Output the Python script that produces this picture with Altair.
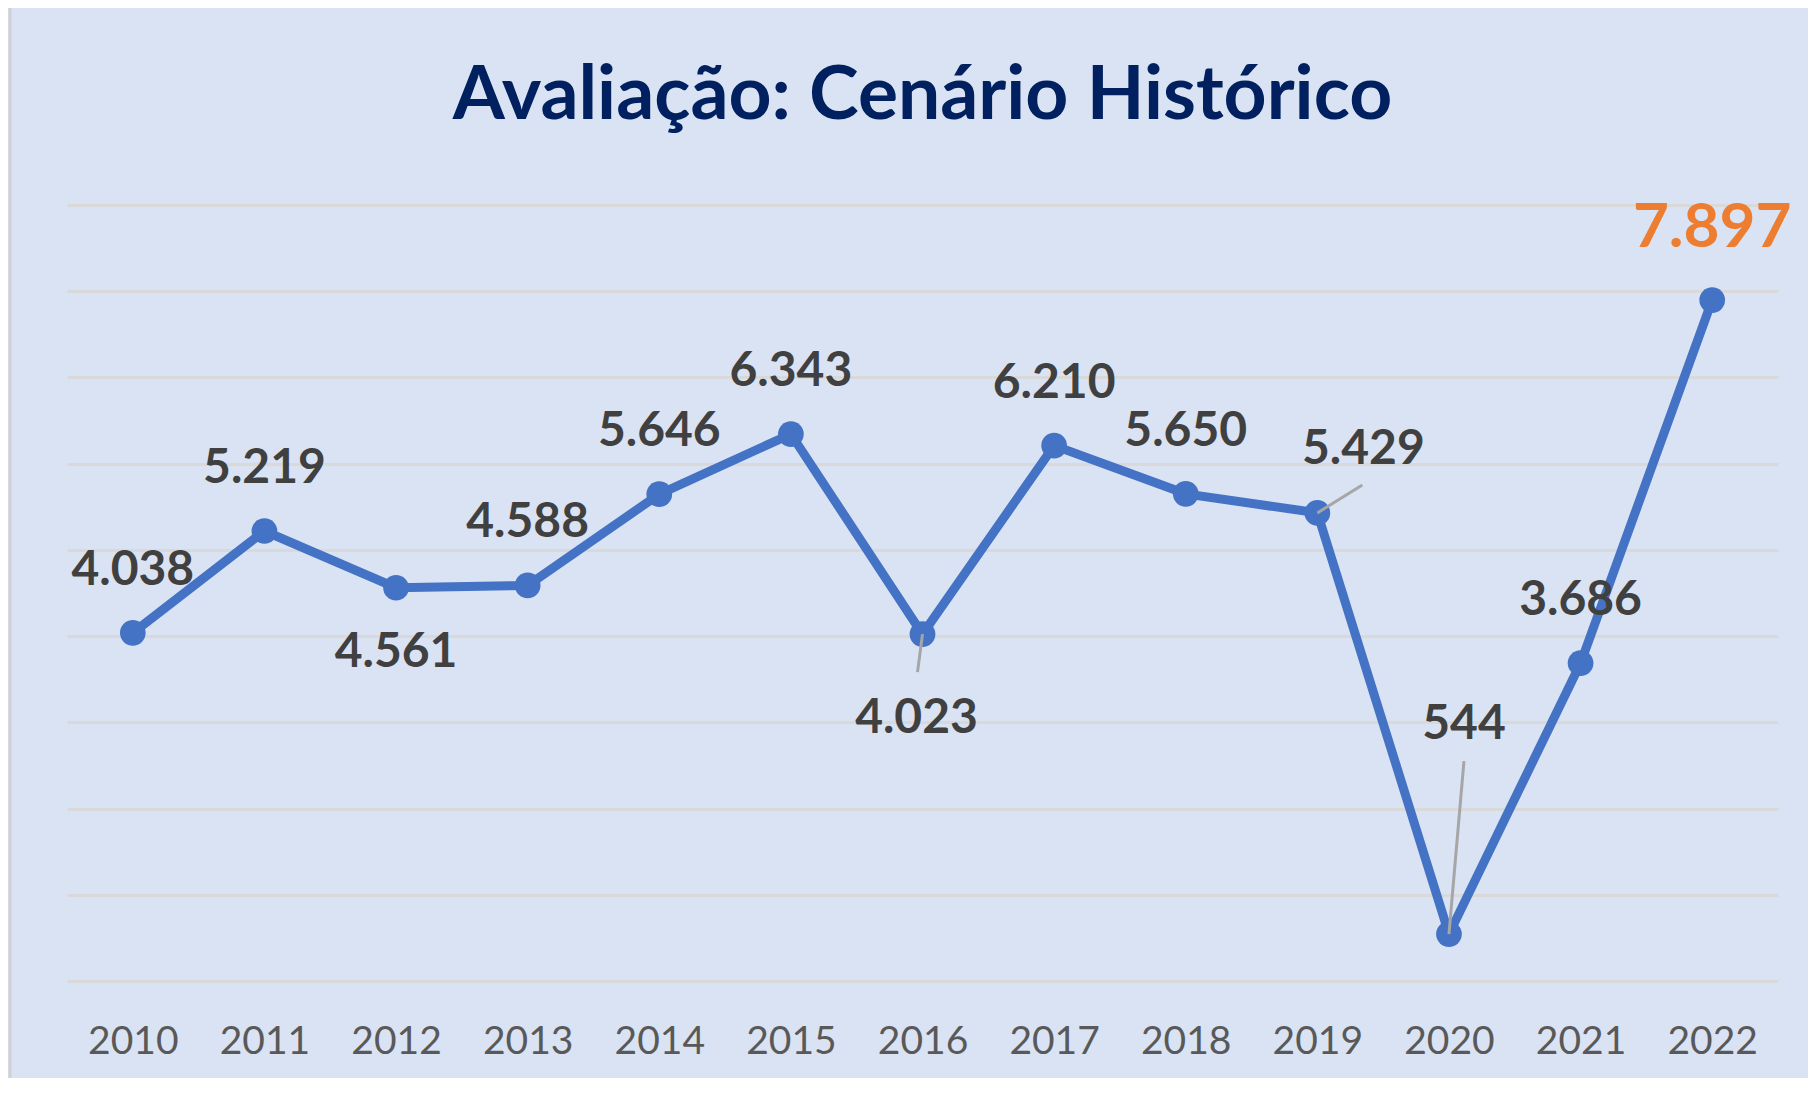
import altair as alt
import pandas as pd

# ---- data ----
years = [2010, 2011, 2012, 2013, 2014, 2015, 2016, 2017, 2018, 2019, 2020, 2021, 2022]
values = [4038, 5219, 4561, 4588, 5646, 6343, 4023, 6210, 5650, 5429, 544, 3686, 7897]
y_ticks = [0, 1000, 2000, 3000, 4000, 5000, 6000, 7000, 8000, 9000]
title_text = "Avaliação: Cenário Histórico"
highlight_year = 2022

# ---- layout / style ----
W, H = 1711, 776
PAD = {"left": 59, "top": 197, "right": 30, "bottom": 97}
X_DOMAIN = [years[0] - 0.5, years[-1] + 0.5]
Y_DOMAIN = [y_ticks[0], y_ticks[-1]]
PX_PER_YEAR = W / (X_DOMAIN[1] - X_DOMAIN[0])
PX_PER_UNIT = H / (Y_DOMAIN[1] - Y_DOMAIN[0])

BLUE = "#4472C4"
LABEL_COLOR = "#404040"
AXIS_COLOR = "#595959"
ORANGE = "#ED7D31"
NAVY = "#002060"
FONT = "Lato"

# pixel offsets of the data labels (dx, dy) from their point
default_offset = (0, -62)
label_offsets = {2012: (0, 65), 2016: (-6, 85), 2019: (46, -63), 2020: (15, -209), 2022: (0, -72)}
# leader lines (pixel end offsets from the point)
leader_offsets = {2016: (-5, 38), 2019: (45, -28), 2020: (15, -173)}

labels = [f"{v:,}".replace(",", ".") for v in values]
df = pd.DataFrame({"ano": years, "valor": values, "rotulo": labels})

x_scale = alt.Scale(domain=X_DOMAIN, nice=False, zero=False)
y_scale = alt.Scale(domain=Y_DOMAIN, nice=False, zero=False)

x_enc = alt.X(
    "ano:Q",
    scale=x_scale,
    axis=alt.Axis(
        values=years, format="d", title=None, domain=False, ticks=False, grid=False,
        labelFont=FONT, labelFontSize=39, labelColor=AXIS_COLOR, labelPadding=60,
        labelBaseline="middle", labelFlush=False, labelOverlap=False,
    ),
)
y_enc = alt.Y(
    "valor:Q",
    scale=y_scale,
    axis=alt.Axis(
        values=y_ticks, labels=False, domain=False, ticks=False, title=None,
        grid=True, gridColor="#D9D9D9", gridWidth=3,
    ),
)

base = alt.Chart(df)
line = base.mark_line(color=BLUE, strokeWidth=9).encode(x=x_enc, y=y_enc)
points = base.mark_circle(color=BLUE, size=660, opacity=1).encode(x="ano:Q", y="valor:Q")

# leaders
ld_years = list(leader_offsets.keys())
ld_vals = [values[years.index(yv)] for yv in ld_years]
leader_df = pd.DataFrame({
    "ano": ld_years,
    "valor": ld_vals,
    "ano2": [yv + leader_offsets[yv][0] / PX_PER_YEAR for yv in ld_years],
    "valor2": [v - leader_offsets[yv][1] / PX_PER_UNIT for yv, v in zip(ld_years, ld_vals)],
})
leaders = alt.Chart(leader_df).mark_rule(color="#A6A6A6", strokeWidth=3).encode(
    x="ano:Q", y="valor:Q", x2="ano2:Q", y2="valor2:Q"
)

# labels grouped by offset
groups = {}
for yv in years:
    off = label_offsets.get(yv, default_offset)
    groups.setdefault(off, []).append(yv)

text_layers = []
for (dx, dy), yrs in groups.items():
    is_hi = yrs == [highlight_year]
    t = base.transform_filter(
        alt.FieldOneOfPredicate(field="ano", oneOf=yrs)
    ).mark_text(
        dx=dx, dy=dy, font=FONT, fontWeight="bold",
        fontSize=62 if is_hi else 48,
        color=ORANGE if is_hi else LABEL_COLOR,
        baseline="middle", align="center",
    ).encode(x="ano:Q", y="valor:Q", text="rotulo:N")
    text_layers.append(t)

one = pd.DataFrame({"k": [0]})
border = alt.Chart(one).mark_rule(
    color="#D0D0D0", strokeWidth=3, clip=False
).encode(x=alt.value(-57), y=alt.value(-PAD["top"]), y2=alt.value(H + PAD["bottom"]))

title = alt.Chart(one).mark_text(
    text=title_text, font=FONT, fontSize=75, fontWeight="bold", color=NAVY,
    align="center", baseline="alphabetic", clip=False,
).encode(x=alt.value(W / 2), y=alt.value(-86))

chart = alt.layer(line, points, leaders, *text_layers, border, title).properties(
    width=W,
    height=H,
    padding=PAD,
    autosize="none",
).configure(
    background="#DAE3F3",
).configure_view(stroke=None)

chart.save("out.html", embed_options={"renderer": "svg", "actions": False})
